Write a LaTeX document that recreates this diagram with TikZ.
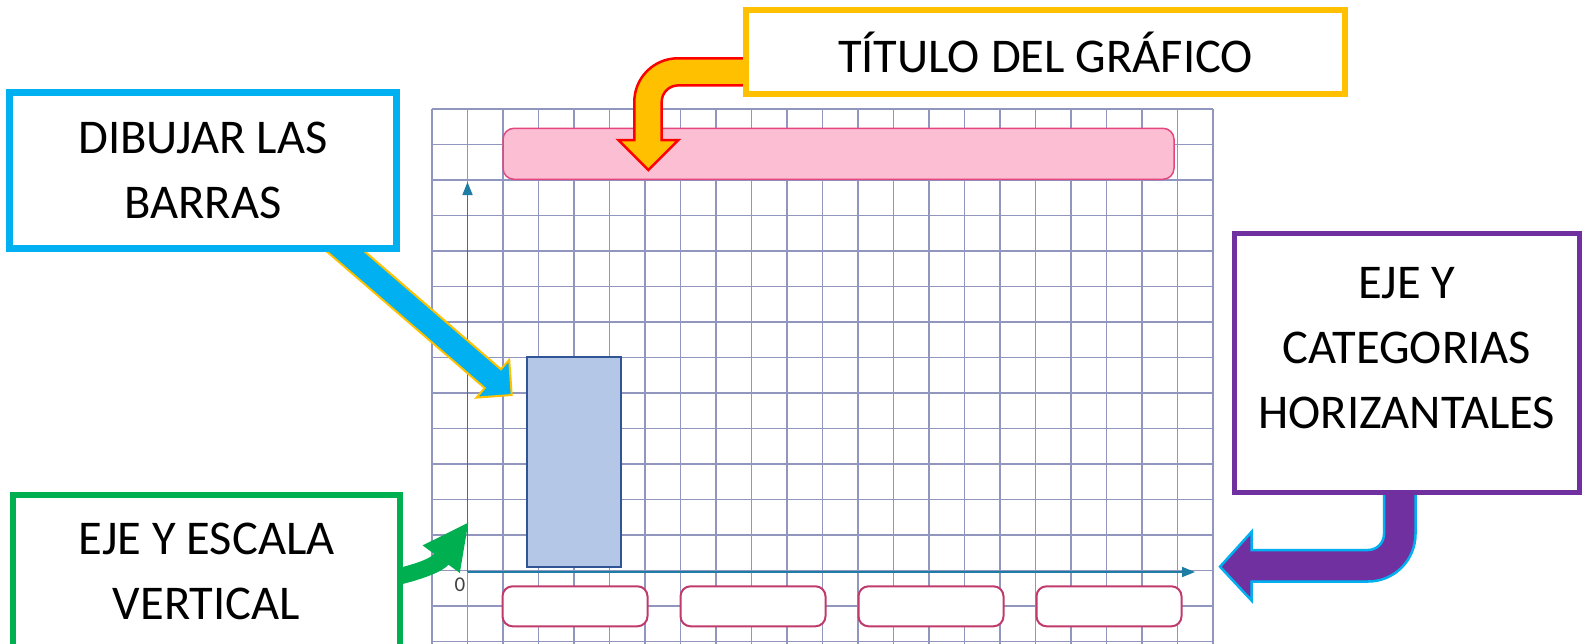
\documentclass[tikz,border=0pt]{standalone}
\usepackage{fontspec}
\setmainfont{Carlito}
\usetikzlibrary{arrows.meta,calc,positioning}

\definecolor{gridblue}{RGB}{144,150,190}
\definecolor{axisblue}{RGB}{30,125,165}
\definecolor{titlegold}{RGB}{255,192,0}
\definecolor{barsky}{RGB}{0,176,240}
\definecolor{catpurple}{RGB}{112,48,160}
\definecolor{scalegreen}{RGB}{0,176,80}
\definecolor{pinkfill}{RGB}{251,190,210}
\definecolor{pinkline}{RGB}{228,70,128}
\definecolor{catline}{RGB}{192,58,108}
\definecolor{barfill}{RGB}{180,199,231}
\definecolor{barline}{RGB}{47,85,151}

\tikzset{
  callout/.style={rectangle, draw, fill=white, line width=6pt, align=center,
    font=\fontsize{48.5}{65}\selectfont, inner sep=0pt},
  calltext/.style={align=center, font=\fontsize{48.5}{65}\selectfont, inner sep=0pt},
  catbox/.style={rectangle, rounded corners=10pt, draw=catline, line width=2pt,
    fill=white, minimum width=145pt, minimum height=40pt},
  gridline/.style={draw=gridblue, line width=1.6pt},
  axis/.style={draw=axisblue, line width=1.6pt, -{Triangle[length=13pt,width=10pt]}},
  blockarrow/.style={line width=2.5pt, line join=miter}
}

\begin{document}
\begin{tikzpicture}[x=1pt, y=-1pt]
    \useasboundingbox (0,0) rectangle (1592,643);

    % squared paper
    \foreach \i in {0,...,22}
        \draw[gridline] ({432+35.5*\i},109) -- ({432+35.5*\i},650);
    \foreach \j in {0,...,15}
        \draw[gridline] (432,{109+35.5*\j}) -- (1213,{109+35.5*\j});

    % chart parts
    \node (tbar) [rectangle, rounded corners=11pt, draw=pinkline, fill=pinkfill, line width=1.5pt,
        minimum width=671pt, minimum height=51pt] at (838.5,153.8) {};
    \node (bar1) [rectangle, draw=barline, fill=barfill, line width=2.5pt,
        minimum width=94pt, minimum height=210pt] at (574,462) {};
    \node (cat1) [catbox] at (575,606.3) {};
    \node (cat2) [catbox, right=31pt of cat1] {};
    \node (cat3) [catbox, right=31pt of cat2] {};
    \node (cat4) [catbox, right=31pt of cat3] {};

    \coordinate (origin) at (467.5,572);
    \coordinate (ytop) at (467.5,182);
    \coordinate (xend) at (1195,572);
    \draw[axis] (origin) -- (ytop);
    \draw[axis] (origin) -- (xend);
    \node (zero) [font=\fontsize{21}{21}\selectfont, text=black!75] at (460,585) {0};

    % block arrows
    \draw[blockarrow, draw=red, fill=titlegold] (760,58.3) -- (677.8,58.3)
        arc[start angle=270, end angle=180, radius=43.5] -- (634.3,140) -- (618.3,140)
        -- (648.3,170) -- (678.3,140) -- (661.7,140) -- (661.7,101.8)
        arc[start angle=180, end angle=270, radius=16.4] -- (760,85.4) -- cycle;
    \draw[blockarrow, draw=titlegold, line width=2pt, fill=barsky] (326.9,218.8) -- (500.9,369.3)
        -- (509.2,359.8) -- (511.7,395) -- (476.5,397.6) -- (484.7,388) -- (310.7,237.6) -- cycle;
    \fill[scalegreen] (385,571) .. controls (405,567) and (429.2,560.2) .. (434,553.8)
        -- (422.6,545.4) -- (468.3,522.7) -- (459.8,573) -- (448.4,564.6)
        .. controls (442.4,572.6) and (415,582) .. (385,588) -- cycle;
    \draw[blockarrow, draw=barsky, fill=catpurple] (1384,480) -- (1384,534)
        arc[start angle=0, end angle=90, radius=16] -- (1251.7,550) -- (1251.7,531.7)
        -- (1220,566.7) -- (1251.7,600.7) -- (1251.7,581.5) -- (1368,581.5)
        arc[start angle=90, end angle=0, radius=47.5] -- (1415.5,480) -- cycle;

    % callouts
    \node (titulo) [callout, draw=titlegold, minimum width=599pt, minimum height=84pt] at (1045.5,52) {TÍTULO DEL GRÁFICO};
    \node (barras) [callout, draw=barsky, line width=7pt, minimum width=387pt, minimum height=156pt] at (203,170.5) {DIBUJAR LAS\\BARRAS};
    \node (escala) [callout, draw=scalegreen, minimum width=387pt, minimum height=154pt] at (206.5,571.5) {EJE Y ESCALA\\VERTICAL};
    \node (categ) [callout, draw=catpurple, line width=5pt, minimum width=345pt, minimum height=259pt] at (1406.7,362.9) {};
    \node (categtext) [calltext] at ([yshift=15pt]categ.center) {EJE Y\\CATEGORIAS\\HORIZANTALES};
\end{tikzpicture}
\end{document}
